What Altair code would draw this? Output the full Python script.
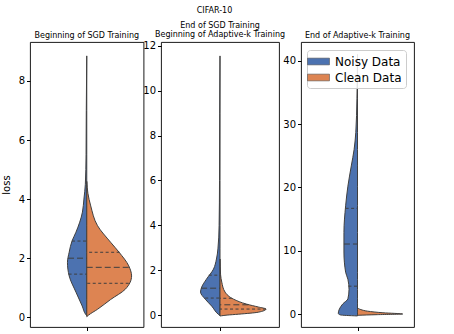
import altair as alt
import pandas as pd

# ---------------- data ----------------
groups = ["Noisy Data", "Clean Data"]
colors = ["#4c72b0", "#dd8452"]

# Panel 1: Beginning of SGD Training
p1_noisy_loss = [0.05, 0.1, 0.38, 0.85, 1.4, 1.86, 2.2, 2.58, 2.88, 3.56, 4.0, 4.5, 5.5, 7.0, 8.85]
p1_noisy_w = [0.0, 0.02, 0.08, 0.19, 0.31, 0.34, 0.31, 0.26, 0.19, 0.076, 0.05, 0.025, 0.012, 0.008, 0.0]
p1_clean_loss = [0.02, 0.07, 0.27, 0.6, 0.95, 1.4, 1.74, 2.2, 2.54, 3.1, 3.77, 4.2, 4.6]
p1_clean_w = [0.0, 0.03, 0.19, 0.42, 0.68, 0.79, 0.74, 0.57, 0.42, 0.19, 0.07, 0.02, 0.0]

# Panel 2: End of SGD / Beginning of Adaptive-k
p2_noisy_loss = [-0.02, 0.04, 0.4, 0.71, 1.03, 1.25, 1.6, 2.05, 2.5, 2.95, 4.0, 6.0, 9.0, 11.55]
p2_noisy_w = [0.0, 0.03, 0.14, 0.25, 0.33, 0.31, 0.23, 0.11, 0.06, 0.035, 0.015, 0.008, 0.005, 0.0]
p2_clean_loss = [-0.04, 0.0, 0.04, 0.13, 0.27, 0.36, 0.49, 0.71, 1.03, 1.47, 1.8, 2.5]
p2_clean_w = [0.0, 0.12, 0.31, 0.65, 0.78, 0.65, 0.45, 0.23, 0.085, 0.03, 0.01, 0.0]

# Panel 3: End of Adaptive-k Training
p3_noisy_loss = [-0.3, -0.15, 0.1, 0.8, 1.6, 2.4, 3.9, 5.5, 6.6, 9.8, 12.9, 17.1, 20.2, 23.4, 26.0, 28.7, 34.0, 41.0]
p3_noisy_w = [0.0, 0.3, 0.34, 0.32, 0.26, 0.17, 0.15, 0.17, 0.21, 0.24, 0.24, 0.21, 0.17, 0.11, 0.06, 0.03, 0.01, 0.0]
p3_clean_loss = [-0.2, -0.1, 0.0, 0.2, 0.45, 0.7, 1.0]
p3_clean_w = [0.0, 0.35, 0.8, 0.45, 0.18, 0.06, 0.0]

# quartile lines (Q1, median, Q3) and the half-width at each level
p1_noisy_q = [1.46, 2.0, 2.58]; p1_noisy_qw = [0.32, 0.33, 0.26]
p1_clean_q = [1.15, 1.69, 2.2]; p1_clean_qw = [0.74, 0.74, 0.58]
p2_noisy_q = [0.76, 1.2, 1.78]; p2_noisy_qw = [0.25, 0.32, 0.19]
p2_clean_q = [0.27, 0.46, 0.75]; p2_clean_qw = [0.78, 0.48, 0.2]
p3_noisy_q = [4.4, 11.06, 16.7]; p3_noisy_qw = [0.16, 0.24, 0.21]

panel_titles = [
    [" ", "Beginning of SGD Training"],
    ["End of SGD Training", "Beginning of Adaptive-k Training"],
    [" ", "End of Adaptive-k Training"],
]
y_domains = [[-0.33, 9.32], [-0.53, 12.17], [-2.05, 42.98]]
y_ticks = [[0, 2, 4, 6, 8], [0, 2, 4, 6, 8, 10, 12], [0, 5, 10, 15, 20, 25, 30, 35, 40]]
main_title = "CIFAR-10"
y_label = "loss"

# ---------------- tables ----------------
shapes = {
    1: [(p1_noisy_loss, p1_noisy_w), (p1_clean_loss, p1_clean_w)],
    2: [(p2_noisy_loss, p2_noisy_w), (p2_clean_loss, p2_clean_w)],
    3: [(p3_noisy_loss, p3_noisy_w), (p3_clean_loss, p3_clean_w)],
}
quarts = {
    1: [(p1_noisy_q, p1_noisy_qw), (p1_clean_q, p1_clean_qw)],
    2: [(p2_noisy_q, p2_noisy_qw), (p2_clean_q, p2_clean_qw)],
    3: [(p3_noisy_q, p3_noisy_qw)],
}

rows, qrows = [], []
for p, lst in shapes.items():
    for gi, (ls, ws) in enumerate(lst):
        sign = -1 if gi == 0 else 1
        for l, w in zip(ls, ws):
            rows.append({"panel": p, "group": groups[gi], "loss": l, "xs": sign * w})
for p, lst in quarts.items():
    for gi, (qs, qw) in enumerate(lst):
        sign = -1 if gi == 0 else 1
        for k, (q, w) in enumerate(zip(qs, qw)):
            qrows.append({"panel": p, "group": groups[gi], "loss": q, "xs": sign * w,
                          "zero": 0.0, "kind": "median" if k == 1 else "quart"})
df = pd.DataFrame(rows)
qdf = pd.DataFrame(qrows)

legend = alt.Legend(
    title=None, orient="none", legendX=277, legendY=8,
    fillColor="rgba(255,255,255,0.85)", strokeColor="#cccccc", cornerRadius=3,
    padding=4, labelFontSize=12, labelColor="black", labelFont="DejaVu Sans",
    symbolType="M-1.57,-0.48L1.57,-0.48L1.57,0.48L-1.57,0.48Z",
    symbolSize=196, symbolStrokeWidth=0.6, symbolStrokeColor="#555555",
    symbolOpacity=1, labelOffset=9, rowPadding=2,
)
color = alt.Color("group:N", scale=alt.Scale(domain=groups, range=colors), legend=legend)


def panel(i):
    p = i + 1
    ext = [14, 17, 22][i]
    yaxis = alt.Axis(
        values=y_ticks[i], tickSize=3.5, labelPadding=2, domain=False, grid=False,
        labelFontSize=10, labelColor="black", tickColor="black",
        title=y_label if i == 0 else None, titleFontSize=10, titleFontWeight="normal",
        titleColor="black", titlePadding=5, minExtent=ext, maxExtent=ext,
    )
    yscale = alt.Scale(domain=y_domains[i], nice=False, zero=False)
    xscale = alt.Scale(domain=[-1, 1], nice=False, zero=True)
    xaxis = alt.Axis(values=[0], labels=False, title=None, domain=False, grid=False,
                     tickSize=3.5, tickColor="black")
    area = alt.Chart(df[df.panel == p]).mark_area(
        orient="horizontal", interpolate="monotone", stroke="#3f3f3f",
        strokeWidth=1, opacity=1,
    ).encode(
        y=alt.Y("loss:Q", scale=yscale, axis=yaxis),
        x=alt.X("xs:Q", stack=None, scale=xscale, axis=xaxis),
        color=color,
    )
    sub = qdf[qdf.panel == p]
    med = alt.Chart(sub[sub.kind == "median"]).mark_rule(
        color="#3f3f3f", strokeWidth=1, strokeDash=[6, 3]
    ).encode(y="loss:Q", x="xs:Q", x2="zero:Q")
    qu = alt.Chart(sub[sub.kind == "quart"]).mark_rule(
        color="#3f3f3f", strokeWidth=1, strokeDash=[3, 2.5]
    ).encode(y="loss:Q", x="xs:Q", x2="zero:Q")
    w = [113.5, 118, 113][i]
    return alt.layer(area, med, qu).properties(
        width=w, height=285,
        title=alt.TitleParams(text=panel_titles[i], fontSize=8, fontWeight="normal",
                              color="black", offset=2, lineHeight=9),
    )


right = alt.hconcat(panel(1), panel(2), spacing=22, bounds="flush")
chart = alt.hconcat(panel(0), right, spacing=17, bounds="flush").properties(
    title=alt.TitleParams(main_title, fontSize=8, fontWeight="normal", color="black",
                          anchor="middle", dx=7, offset=6),
    padding={"top": 7, "left": 0, "right": 0, "bottom": 0},
).configure(font="DejaVu Sans").configure_view(stroke="black", strokeWidth=0.9)

chart.save("out.html", embed_options={"renderer": "svg", "actions": False})
